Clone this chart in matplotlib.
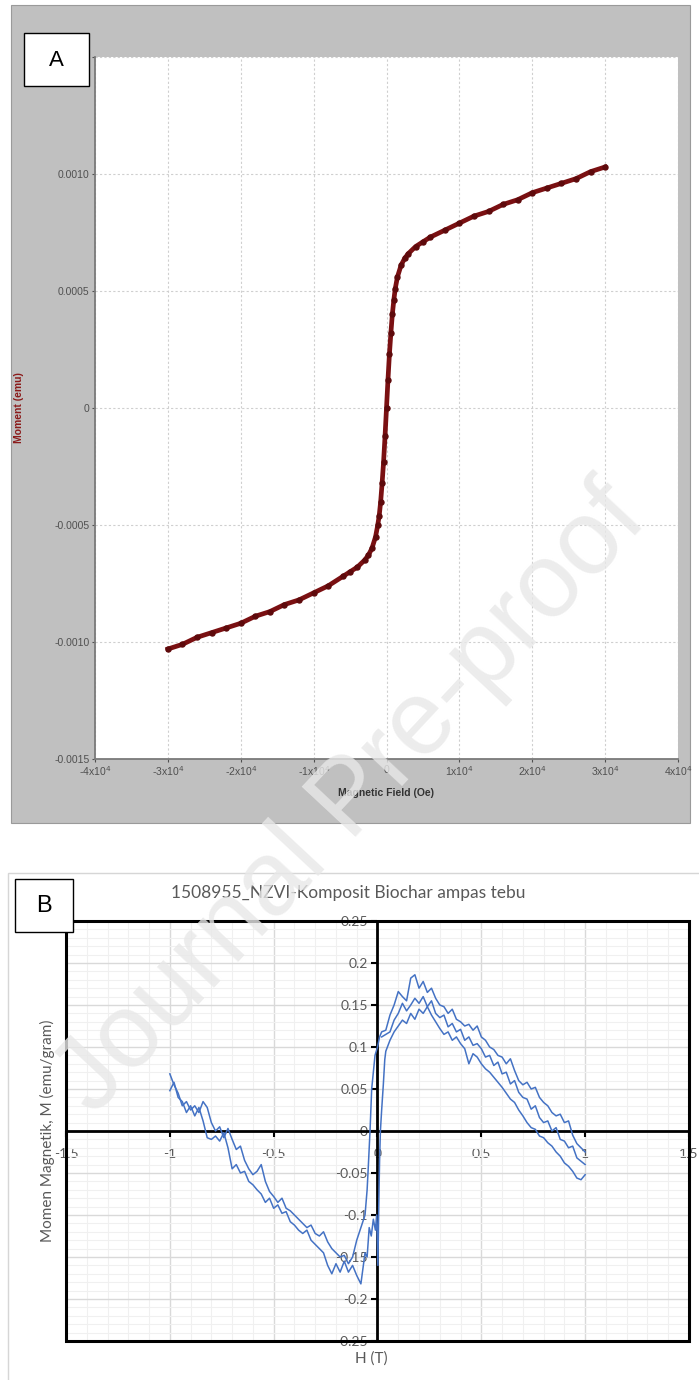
import numpy as np
import matplotlib
matplotlib.use("Agg")
import matplotlib.pyplot as plt
from matplotlib.patches import Rectangle

plt.rcParams['axes.unicode_minus'] = False

# ---------------- Panel A data (VSM, Oe vs emu) ----------------
a_field = [-30000, -28000, -26000, -24000, -22000, -20000, -18000, -16000, -14000,
           -12000, -10000, -8000, -6000, -5000, -4000, -3000, -2500, -2000, -1500,
           -1200, -1000, -800, -600, -400, -200, 0, 200, 400, 600, 800, 1000, 1200,
           1500, 2000, 2500, 3000, 4000, 5000, 6000, 8000, 10000, 12000, 14000,
           16000, 18000, 20000, 22000, 24000, 26000, 28000, 30000]
a_moment = [-0.00103, -0.00101, -0.00098, -0.00096, -0.00094, -0.00092, -0.00089,
            -0.00087, -0.00084, -0.00082, -0.00079, -0.00076, -0.00072, -0.00070,
            -0.00068, -0.00065, -0.00063, -0.00060, -0.00055, -0.00050, -0.00046,
            -0.00040, -0.00032, -0.00023, -0.00012, 0.00000, 0.00012, 0.00023,
            0.00032, 0.00040, 0.00046, 0.00051, 0.00056, 0.00061, 0.00064, 0.00066,
            0.00069, 0.00071, 0.00073, 0.00076, 0.00079, 0.00082, 0.00084, 0.00087,
            0.00089, 0.00092, 0.00094, 0.00096, 0.00098, 0.00101, 0.00103]
a_xticks = [-40000, -30000, -20000, -10000, 0, 10000, 20000, 30000, 40000]
a_xticklabels = ['-4x10$^4$', '-3x10$^4$', '-2x10$^4$', '-1x10$^4$', '0',
                 '1x10$^4$', '2x10$^4$', '3x10$^4$', '4x10$^4$']
a_yticks = [-0.0015, -0.0010, -0.0005, 0, 0.0005, 0.0010, 0.0015]
# top label is hidden behind the "A" box in the reference
a_yticklabels = ['-0.0015', '-0.0010', '-0.0005', '0', '0.0005', '0.0010', '']

# ---------------- Panel B data (H in T, M in emu/gram) ----------------
h_neg = [-1.00, -0.98, -0.96, -0.94, -0.92, -0.90, -0.88, -0.86, -0.84, -0.82,
         -0.80, -0.78, -0.76, -0.74, -0.72, -0.70, -0.68, -0.66, -0.64, -0.62,
         -0.60, -0.58, -0.56, -0.54, -0.52, -0.50, -0.48, -0.46, -0.44, -0.42,
         -0.40, -0.38, -0.36, -0.34, -0.32, -0.30, -0.28, -0.26, -0.24, -0.22,
         -0.20, -0.18, -0.16, -0.14, -0.12, -0.10, -0.08, -0.06]
m_neg_upper = [0.068, 0.055, 0.045, 0.030, 0.035, 0.025, 0.030, 0.022, 0.035, 0.028,
               0.010, 0.000, 0.005, -0.008, 0.003, -0.010, -0.022, -0.018, -0.035, -0.045,
               -0.052, -0.048, -0.040, -0.060, -0.072, -0.078, -0.085, -0.080, -0.092, -0.095,
               -0.100, -0.105, -0.110, -0.115, -0.112, -0.122, -0.125, -0.120, -0.132, -0.140,
               -0.145, -0.150, -0.148, -0.158, -0.150, -0.130, -0.115, -0.100]
m_neg_lower = [0.048, 0.058, 0.040, 0.035, 0.022, 0.030, 0.018, 0.028, 0.012, -0.008,
               -0.010, -0.006, -0.012, -0.002, -0.020, -0.045, -0.040, -0.050, -0.048, -0.060,
               -0.064, -0.070, -0.075, -0.085, -0.080, -0.092, -0.088, -0.098, -0.096, -0.108,
               -0.112, -0.118, -0.122, -0.118, -0.130, -0.135, -0.140, -0.145, -0.160, -0.170,
               -0.158, -0.168, -0.155, -0.168, -0.160, -0.172, -0.182, -0.145]
h_step1 = [-0.05, -0.045, -0.036, -0.028, -0.020, -0.012, 0.000, 0.010, 0.020]
m_step1 = [-0.070, -0.046, 0.000, 0.050, 0.070, 0.090, 0.100, 0.112, 0.118]
h_step2 = [-0.05, -0.04, -0.03, -0.02, -0.01, -0.004, 0.002, 0.006, 0.010, 0.014,
           0.020, 0.028, 0.035]
m_step2 = [-0.150, -0.115, -0.125, -0.105, -0.118, -0.100, -0.160, -0.090, -0.035,
           0.000, 0.025, 0.055, 0.085]
h_pos = [0.04, 0.06, 0.08, 0.10, 0.12, 0.14, 0.16, 0.18, 0.20, 0.22, 0.24, 0.26,
         0.28, 0.30, 0.32, 0.34, 0.36, 0.38, 0.40, 0.42, 0.44, 0.46, 0.48, 0.50,
         0.52, 0.54, 0.56, 0.58, 0.60, 0.62, 0.64, 0.66, 0.68, 0.70, 0.72, 0.74,
         0.76, 0.78, 0.80, 0.82, 0.84, 0.86, 0.88, 0.90, 0.92, 0.94, 0.96, 0.98, 1.00]
m_pos_upper = [0.120, 0.138, 0.150, 0.166, 0.160, 0.155, 0.182, 0.186, 0.170, 0.178,
               0.165, 0.170, 0.158, 0.150, 0.148, 0.140, 0.145, 0.133, 0.130, 0.125,
               0.127, 0.120, 0.125, 0.112, 0.108, 0.100, 0.097, 0.090, 0.088, 0.080,
               0.086, 0.072, 0.060, 0.055, 0.058, 0.050, 0.052, 0.040, 0.034, 0.030,
               0.022, 0.018, 0.020, 0.010, 0.012, -0.005, -0.015, -0.020, -0.025]
m_pos_mid = [0.115, 0.118, 0.132, 0.140, 0.152, 0.143, 0.150, 0.158, 0.152, 0.160,
             0.148, 0.155, 0.140, 0.135, 0.138, 0.124, 0.128, 0.118, 0.121, 0.108,
             0.112, 0.102, 0.104, 0.098, 0.088, 0.090, 0.078, 0.082, 0.068, 0.070,
             0.056, 0.060, 0.046, 0.040, 0.038, 0.026, 0.030, 0.016, 0.010, 0.012,
             0.000, 0.004, -0.010, -0.012, -0.020, -0.018, -0.032, -0.036, -0.040]
m_pos_lower = [0.095, 0.108, 0.118, 0.125, 0.132, 0.128, 0.140, 0.133, 0.145, 0.140,
               0.148, 0.138, 0.130, 0.122, 0.115, 0.118, 0.108, 0.112, 0.104, 0.098,
               0.080, 0.092, 0.088, 0.080, 0.074, 0.070, 0.064, 0.058, 0.052, 0.045,
               0.038, 0.034, 0.025, 0.018, 0.010, 0.004, 0.002, -0.006, -0.008, -0.014,
               -0.018, -0.025, -0.030, -0.038, -0.042, -0.048, -0.056, -0.058, -0.052]
b_xticks = [-1.5, -1, -0.5, 0, 0.5, 1, 1.5]
b_xticklabels = ['-1.5', '-1', '-0.5', '0', '0.5', '1', '1.5']
b_yticks = [-0.25, -0.2, -0.15, -0.1, -0.05, 0, 0.05, 0.1, 0.15, 0.2, 0.25]
b_yticklabels = ['-0.25', '-0.2', '-0.15', '-0.1', '-0.05', '0', '0.05', '0.1',
                 '0.15', '0.2', '0.25']

# ---------------- figure ----------------
W, H = 699, 1380
fig = plt.figure(figsize=(W / 100, H / 100), dpi=100)


def frect(x0, y0, x1, y1, **kw):
    r = Rectangle((x0 / W, 1 - y1 / H), (x1 - x0) / W, (y1 - y0) / H,
                  transform=fig.transFigure, figure=fig, **kw)
    fig.patches.append(r)
    return r


def fax(x0, y0, x1, y1):
    return fig.add_axes([x0 / W, 1 - y1 / H, (x1 - x0) / W, (y1 - y0) / H])


# ----- Panel A -----
frect(11, 5, 690, 823, facecolor='#c0c0c0', edgecolor='#9a9a9a', lw=0.8, zorder=-2)
axA = fax(95, 57, 678, 759)
axA.set_facecolor('white')
axA.plot(a_field, a_moment, color='#7a1012', lw=3.4, marker='o', ms=3.6,
         mfc='#5e0a0c', mec='#5e0a0c', zorder=3)
axA.set_xlim(-40000, 40000)
axA.set_ylim(-0.0015, 0.0015)
axA.set_xticks(a_xticks)
axA.set_xticklabels(a_xticklabels, family='Liberation Sans')
axA.set_yticks(a_yticks)
axA.set_yticklabels(a_yticklabels, family='Liberation Sans')
axA.tick_params(labelsize=7.5, colors='#505050', length=2.5, width=0.8, pad=1.5)
axA.grid(True, color='#cfcfcf', lw=0.8, linestyle=(0, (2, 2)))
for s in ['top', 'right']:
    axA.spines[s].set_visible(False)
for s in ['left', 'bottom']:
    axA.spines[s].set_color('#7a7a7a')
    axA.spines[s].set_linewidth(1.3)
axA.set_ylabel('Moment (emu)', color='#8b1a1a', fontsize=7.5, fontweight='bold',
               family='Liberation Sans')
axA.yaxis.set_label_coords(-0.122, 0.5)
axA.set_xlabel('Magnetic Field (Oe)', color='#333333', fontsize=7.5, fontweight='bold',
               family='Liberation Sans')
axA.xaxis.set_label_coords(0.5, -0.042)

frect(24, 33, 89, 86, facecolor='white', edgecolor='black', lw=1.0, zorder=5)
fig.text(56.5 / W, 1 - 60 / H, 'A', ha='center', va='center', fontsize=16,
         family='Liberation Sans', zorder=6)

# ----- Panel B -----
frect(8, 873, 720, 1400, facecolor='white', edgecolor='#d6d6d6', lw=1.0, zorder=-2)
axB = fax(66, 921, 689, 1341)
axB.set_xlim(-1.5, 1.5)
axB.set_ylim(-0.25, 0.25)
lc = '#4472c4'
axB.plot(h_neg + h_step1 + h_pos, m_neg_upper + m_step1 + m_pos_upper,
         color=lc, lw=1.1, zorder=3)
axB.plot(h_neg + h_step2 + h_pos, m_neg_lower + m_step2 + m_pos_lower,
         color=lc, lw=1.1, zorder=3)
axB.plot([0.02] + h_pos, [0.112] + m_pos_mid, color=lc, lw=1.1, zorder=3)

axB.set_xticks(b_xticks)
axB.set_xticklabels(b_xticklabels)
axB.set_yticks(b_yticks)
axB.set_yticklabels(b_yticklabels)
axB.set_xticks(np.arange(-1.5, 1.51, 0.1), minor=True)
axB.set_yticks(np.arange(-0.25, 0.251, 0.01), minor=True)
axB.grid(True, which='major', color='#d9d9d9', lw=1.0, zorder=0)
axB.grid(True, which='minor', color='#f0f0f0', lw=0.8, zorder=0)
axB.set_axisbelow(True)
axB.spines['left'].set_position(('data', 0))
axB.spines['bottom'].set_position(('data', 0))
for s in ['left', 'bottom', 'top', 'right']:
    axB.spines[s].set_linewidth(2.0)
    axB.spines[s].set_color('black')
axB.add_patch(Rectangle((0, 0), 1, 1, transform=axB.transAxes, fill=False,
                        edgecolor='black', lw=2.2, clip_on=False, zorder=4))
for lab in axB.get_xticklabels() + axB.get_yticklabels():
    lab.set_family('Lato')
axB.tick_params(which='major', labelsize=10, colors='black', labelcolor='#595959',
                length=4, width=1.5, direction='out')
axB.tick_params(axis='x', pad=8)
axB.tick_params(axis='y', pad=3)
axB.tick_params(which='minor', length=0)
axB.set_ylabel('Momen Magnetik, M (emu/gram)', fontsize=11, color='#595959',
               family='Lato')
axB.yaxis.set_label_coords(-0.018, 0.5)
axB.set_xlabel('H (T)', fontsize=11, color='#595959', family='Lato')
axB.xaxis.set_label_coords(0.49, -0.025)

fig.text(348 / W, 1 - 893 / H, '1508955_NZVI-Komposit Biochar ampas tebu',
         ha='center', va='center', fontsize=12.5, color='#595959', family='Lato')
frect(15, 879, 73, 932, facecolor='white', edgecolor='black', lw=1.0, zorder=5)
fig.text(44 / W, 1 - 906 / H, 'B', ha='center', va='center', fontsize=17,
         family='Liberation Sans', zorder=6)

# ----- watermark -----
fig.text(352 / W, 1 - 800 / H, 'Journal Pre-proof', ha='center', va='center',
         rotation=47, fontsize=76, color='#e8e8e8', alpha=0.8,
         family='Liberation Sans', zorder=10)

fig.savefig('out.png', dpi=100)
